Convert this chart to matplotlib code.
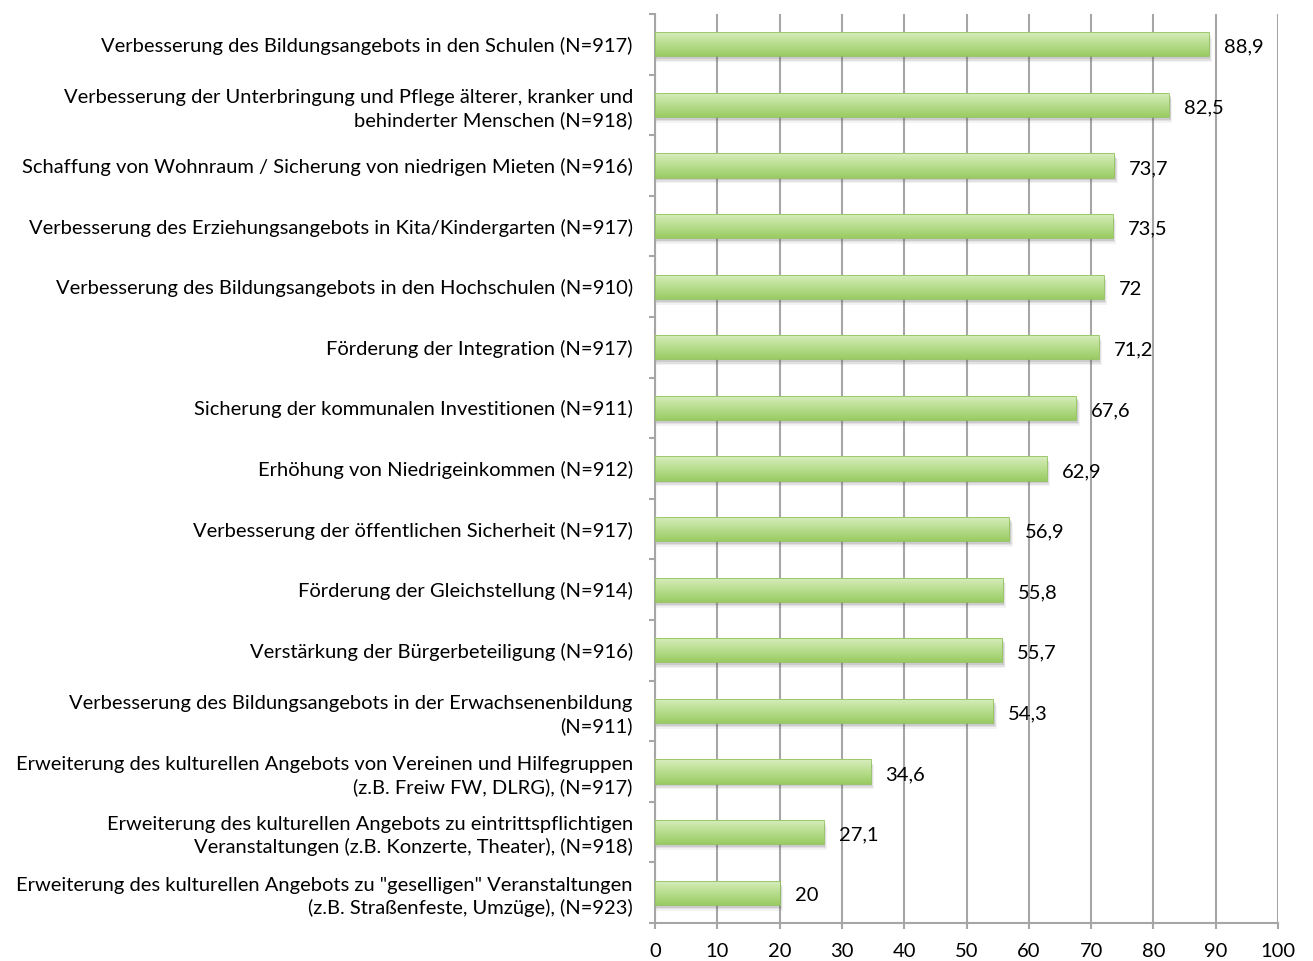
import numpy as np
import matplotlib
matplotlib.use("Agg")
import matplotlib.pyplot as plt
from matplotlib.colors import LinearSegmentedColormap

# data, top to bottom
labels = [
    "Verbesserung des Bildungsangebots in den Schulen (N=917)",
    "Verbesserung der Unterbringung und Pflege älterer, kranker und\nbehinderter Menschen (N=918)",
    "Schaffung von Wohnraum / Sicherung von niedrigen Mieten (N=916)",
    "Verbesserung des Erziehungsangebots in Kita/Kindergarten (N=917)",
    "Verbesserung des Bildungsangebots in den Hochschulen (N=910)",
    "Förderung der Integration (N=917)",
    "Sicherung der kommunalen Investitionen (N=911)",
    "Erhöhung von Niedrigeinkommen (N=912)",
    "Verbesserung der öffentlichen Sicherheit (N=917)",
    "Förderung der Gleichstellung (N=914)",
    "Verstärkung der Bürgerbeteiligung (N=916)",
    "Verbesserung des Bildungsangebots in der Erwachsenenbildung\n(N=911)",
    "Erweiterung des kulturellen Angebots von Vereinen und Hilfegruppen\n(z.B. Freiw FW, DLRG), (N=917)",
    "Erweiterung des kulturellen Angebots zu eintrittspflichtigen\nVeranstaltungen (z.B. Konzerte, Theater), (N=918)",
    "Erweiterung des kulturellen Angebots zu \"geselligen\" Veranstaltungen\n(z.B. Straßenfeste, Umzüge), (N=923)",
]
values = [88.9, 82.5, 73.7, 73.5, 72, 71.2, 67.6, 62.9, 56.9, 55.8, 55.7, 54.3, 34.6, 27.1, 20]
x_ticks = [0, 10, 20, 30, 40, 50, 60, 70, 80, 90, 100]

plt.rcParams["font.family"] = ["Lato", "DejaVu Sans"]

GRID = "#a6a6a6"
BAR_H = 0.40
FS = 14.5
green = LinearSegmentedColormap.from_list("grn", ["#d9eec0", "#b8de8e", "#9acb63"])

fig = plt.figure(figsize=(13.13, 9.61), dpi=100)
ax = fig.add_axes([655 / 1313, 1 - 923 / 961, (1278 - 655) / 1313, (923 - 14) / 961])

y = np.arange(len(values))
grad = np.linspace(0, 1, 64).reshape(-1, 1)

for yi, v in zip(y, values):
    # soft shadow
    for k, a in enumerate([0.16, 0.11, 0.07]):
        ax.barh(yi + 0.045 + 0.025 * k, v + 0.25 + 0.15 * k, height=BAR_H, left=0,
                color="#5a5a5a", alpha=a, linewidth=0, zorder=2)
    bar = ax.barh(yi, v, height=BAR_H, left=0, color="none",
                  edgecolor="#92c35c", linewidth=0.6, zorder=4)[0]
    im = ax.imshow(grad, cmap=green, aspect="auto", origin="upper",
                   extent=(0, v, yi + BAR_H / 2, yi - BAR_H / 2), zorder=3)
    im.set_clip_path(bar)
    ax.text(v + 2.4, yi + 0.05, f"{v:g}".replace(".", ","), ha="left", va="center",
            fontsize=FS, color="black", zorder=5)

ax.set_xlim(0, 100)
ax.set_ylim(len(values) - 0.5, -0.5)

ax.set_xticks(x_ticks)
ax.set_xticklabels([str(t) for t in x_ticks], fontsize=FS)
ax.set_yticks(y)
ax.set_yticklabels(labels, fontsize=FS, ha="right", multialignment="right", linespacing=1.35)
ax.set_yticks(np.arange(-0.5, len(values), 1), minor=True)

ax.tick_params(axis="y", which="major", length=0, pad=16)
ax.tick_params(axis="y", which="minor", length=4.5, width=1.5, color=GRID, direction="out")
ax.tick_params(axis="x", which="major", length=4.5, width=1.5, color=GRID, direction="out", pad=10)

ax.grid(axis="x", color=GRID, linewidth=1.5, zorder=1)
ax.set_axisbelow(True)
for s in ["top", "right"]:
    ax.spines[s].set_visible(False)
for s in ["left", "bottom"]:
    ax.spines[s].set_color(GRID)
    ax.spines[s].set_linewidth(1.5)

fig.savefig("out.png", dpi=100)
